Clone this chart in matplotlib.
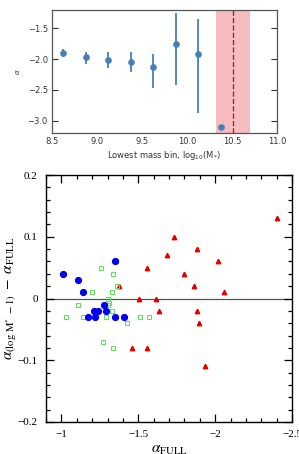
import matplotlib
matplotlib.use("Agg")
import matplotlib.pyplot as plt
import numpy as np

# Top panel data
mass_bins = [8.625, 8.875, 9.125, 9.375, 9.625, 9.875, 10.125, 10.375]
alpha_vals = [-1.895, -1.96, -2.01, -2.04, -2.12, -1.75, -1.92, -3.11]
err_low = [0.065, 0.11, 0.14, 0.17, 0.35, 0.67, 0.95, 0.0]
err_high = [0.055, 0.08, 0.12, 0.15, 0.20, 0.50, 0.58, 0.0]
shade_range = [10.32, 10.70]
cut_line = 10.51

# Bottom panel data
blue_x = [-1.01, -1.11, -1.14, -1.35, -1.28, -1.29, -1.215, -1.235, -1.176, -1.22, -1.35, -1.41]
blue_y = [0.04, 0.03, 0.01, 0.06, -0.01, -0.02, -0.02, -0.02, -0.03, -0.03, -0.03, -0.03]
green_x = [-1.258, -1.337, -1.36, -1.20, -1.33, -1.30, -1.305, -1.312, -1.11, -1.33, -1.03,
           -1.14, -1.29, -1.51, -1.57, -1.427, -1.27, -1.337, -1.355]
green_y = [0.05, 0.04, 0.02, 0.01, 0.01, 0.0, -0.01, -0.008, -0.01, -0.02, -0.03,
           -0.03, -0.03, -0.03, -0.03, -0.04, -0.07, -0.08, 0.06]
red_x = [-2.40, -1.734, -1.884, -1.685, -2.02, -1.556, -1.80, -1.375, -1.863, -2.06,
         -1.506, -1.616, -1.637, -1.884, -1.895, -1.457, -1.556, -1.933]
red_y = [0.13, 0.10, 0.08, 0.07, 0.06, 0.05, 0.04, 0.02, 0.02, 0.01,
         0.0, 0.0, -0.02, -0.02, -0.04, -0.08, -0.08, -0.11]

fig = plt.figure(figsize=(2.99, 4.54), dpi=100)

# ---- Top panel
ax1 = fig.add_axes([0.174, 0.707, 0.752, 0.271])
ax1.axvspan(shade_range[0], shade_range[1], color='#f4a6aa', alpha=0.75, lw=0)
ax1.axvline(cut_line, color='#b0202a', ls='--', lw=1.0)
ax1.errorbar(mass_bins, alpha_vals, yerr=[err_low, err_high], fmt='o', color='#4a7fb5',
             ms=3.8, elinewidth=1.3, capsize=0)
ax1.set_xlim(8.5, 11.0)
ax1.set_ylim(-3.2, -1.2)
ax1.set_xticks([8.5, 9.0, 9.5, 10.0, 10.5, 11.0])
ax1.set_xticklabels(['8.5', '9.0', '9.5', '10.0', '10.5', '11.0'])
ax1.set_yticks([-3.0, -2.5, -2.0, -1.5])
ax1.set_yticklabels(['\u22123.0', '\u22122.5', '\u22122.0', '\u22121.5'])
ax1.tick_params(axis='both', direction='in', labelsize=6, length=4, width=0.8,
                colors='#333333', right=True, top=False, bottom=False, pad=3)
ax1.tick_params(axis='x', length=0)
for s in ax1.spines.values():
    s.set_color('#555555')
    s.set_linewidth(0.9)
ax1.set_xlabel(r'Lowest mass bin, $\mathrm{log_{10}(M_{*})}$', fontsize=6, color='#333333', labelpad=2)
ax1.set_ylabel(r'$\alpha$', fontsize=5, color='#333333', labelpad=4)

# ---- Bottom panel
plt.rcParams['mathtext.fontset'] = 'stix'
ax2 = fig.add_axes([0.154, 0.0705, 0.823, 0.544])
ax2.axhline(0, color='#555555', lw=0.9, zorder=1)
ax2.plot(red_x, red_y, '^', color='#e00000', ms=3.2, mec='#e00000', ls='none', zorder=3)
ax2.plot(green_x, green_y, 's', mfc='none', mec='#66dd66', mew=0.8, ms=3.3, ls='none', zorder=3)
ax2.plot(blue_x, blue_y, 'o', color='#0000ee', ms=4.2, ls='none', zorder=4)
ax2.set_xlim(-0.9, -2.5)
ax2.set_ylim(-0.2, 0.2)
ax2.set_xticks([-1, -1.5, -2, -2.5])
ax2.set_xticklabels(['\u22121', '\u22121.5', '\u22122', '\u22122.5'])
ax2.set_yticks([-0.2, -0.1, 0, 0.1, 0.2])
ax2.set_yticklabels(['\u22120.2', '\u22120.1', '0', '0.1', '0.2'])
ax2.set_xticks(np.arange(-0.9, -2.51, -0.1), minor=True)
ax2.set_yticks(np.arange(-0.2, 0.201, 0.02), minor=True)
ax2.tick_params(which='both', direction='in', top=True, right=True, width=0.9, colors='black')
ax2.tick_params(which='major', length=6, labelsize=8, pad=6)
ax2.tick_params(which='minor', length=3)
for lab in ax2.get_xticklabels() + ax2.get_yticklabels():
    lab.set_family('Liberation Serif')
for s in ax2.spines.values():
    s.set_linewidth(1.0)
    s.set_color('black')
ax2.set_xlabel(r'$\alpha_{\rm FULL}$', fontsize=11, labelpad=2)
ax2.set_ylabel(r'$\alpha_{\rm (log\ M^{*}\ -1)}\ -\ \alpha_{\rm FULL}$', fontsize=11, labelpad=0)

fig.savefig('out.png', dpi=100)
